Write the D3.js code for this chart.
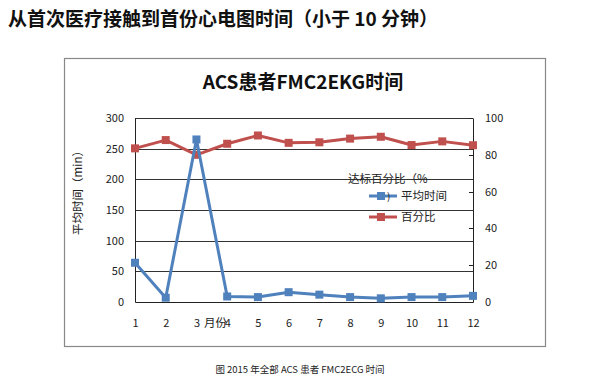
<!DOCTYPE html>
<html><head><meta charset="utf-8">
<script src="https://cdn.jsdelivr.net/npm/d3@7"></script>
<style>body{margin:0;background:#fff}svg{display:block}</style>
</head><body>
<svg id="c" width="592" height="386"></svg>
<script>
const months = ["1","2","3","4","5","6","7","8","9","10","11","12"];
const avgTime = [64, 7, 265, 9, 8, 16, 12, 8, 6, 8, 8, 10];
const percent = [83.5, 88, 80, 86, 90.5, 86.5, 86.8, 88.8, 89.8, 85.3, 87.3, 85.2];
const leftTicks = [0, 50, 100, 150, 200, 250, 300];
const rightTicks = [0, 20, 40, 60, 80, 100];

const svg = d3.select("#c");
const font = "'Noto Sans CJK SC', 'DejaVu Sans', sans-serif";
const L = 135, R = 473, T = 118, B = 302;
const x = d3.scalePoint().domain(months).range([L, R]);
const yL = d3.scaleLinear().domain([0, 300]).range([B, T]);
const yR = d3.scaleLinear().domain([0, 100]).range([B, T]);
const blue = "#4f81bd", red = "#c0504d";

// page title
svg.append("text").attr("x", 8).attr("y", 26).attr("font-family", font)
  .attr("font-size", 19).attr("font-weight", "bold").attr("fill", "#111")
  .text("从首次医疗接触到首份心电图时间（小于 10 分钟）");

// chart frame
svg.append("rect").attr("x", 64.5).attr("y", 58.5).attr("width", 481).attr("height", 288)
  .attr("fill", "none").attr("stroke", "#888").attr("stroke-width", 1.2);

svg.append("text").attr("x", 303).attr("y", 89).attr("text-anchor", "middle")
  .attr("font-family", font).attr("font-size", 19).attr("font-weight", "bold").attr("fill", "#111")
  .text("ACS患者FMC2EKG时间");

// gridlines
svg.append("g").selectAll("line").data(leftTicks.filter(d => d > 0)).join("line")
  .attr("x1", L).attr("x2", R).attr("y1", d => Math.round(yL(d)) + 0.5).attr("y2", d => Math.round(yL(d)) + 0.5)
  .attr("stroke", "#333").attr("stroke-width", 1);

// left axis
const gL = svg.append("g").attr("transform", `translate(${L},0)`)
  .call(d3.axisLeft(yL).tickValues(leftTicks).tickSize(0).tickPadding(11));
gL.select(".domain").attr("stroke", "#222");
gL.selectAll("text").attr("font-family", font).attr("font-size", 11).attr("fill", "#222");

// right axis
const gR = svg.append("g").attr("transform", `translate(${R},0)`)
  .call(d3.axisRight(yR).tickValues(rightTicks).tickSize(0).tickPadding(12));
gR.select(".domain").attr("stroke", "#222");
gR.selectAll("text").attr("font-family", font).attr("font-size", 11).attr("fill", "#222");
svg.append("g").selectAll("line").data(rightTicks).join("line")
  .attr("x1", R - 4).attr("x2", R).attr("y1", d => Math.round(yR(d)) + 0.5).attr("y2", d => Math.round(yR(d)) + 0.5)
  .attr("stroke", "#222");

// bottom axis
const gB = svg.append("g").attr("transform", `translate(0,${B})`)
  .call(d3.axisBottom(x).tickSize(0).tickPadding(17));
gB.select(".domain").attr("stroke", "#222");
gB.selectAll("text").attr("font-family", font).attr("font-size", 11).attr("fill", "#222");

// axis titles
svg.append("text").attr("transform", "translate(82,190) rotate(-90)").attr("text-anchor", "middle")
  .attr("font-family", font).attr("font-size", 11.5).attr("fill", "#222").text("平均时间（min）");
svg.append("text").attr("x", 204).attr("y", 327).attr("font-family", font)
  .attr("font-size", 11.5).attr("fill", "#222").text("月份");

// series
function series(vals, y, color) {
  const g = svg.append("g");
  g.append("path").datum(vals)
    .attr("d", d3.line().x((d, i) => x(months[i])).y(d => y(d)))
    .attr("fill", "none").attr("stroke", color).attr("stroke-width", 3).attr("stroke-linejoin", "round");
  g.selectAll("rect").data(vals).join("rect")
    .attr("x", (d, i) => x(months[i]) - 4).attr("y", d => y(d) - 4)
    .attr("width", 8).attr("height", 8).attr("fill", color);
}
series(percent, yR, red);
series(avgTime, yL, blue);

// legend
svg.append("text").attr("x", 348).attr("y", 183).attr("font-family", font)
  .attr("font-size", 11.5).attr("fill", "#222").text("达标百分比（%");
const leg = [{name: "平均时间", color: blue, y: 196}, {name: "百分比", color: red, y: 217}];
leg.forEach(l => {
  svg.append("line").attr("x1", 369).attr("x2", 397).attr("y1", l.y).attr("y2", l.y)
    .attr("stroke", l.color).attr("stroke-width", 3);
  svg.append("rect").attr("x", 377).attr("y", l.y - 4).attr("width", 8).attr("height", 8).attr("fill", l.color);
  svg.append("text").attr("x", 401).attr("y", l.y + 4).attr("font-family", font)
    .attr("font-size", 11.5).attr("fill", "#222").text(l.name);
});
svg.append("text").attr("x", 387).attr("y", 200).attr("font-family", font)
  .attr("font-size", 10).attr("fill", "#222").text(")");

// caption
svg.append("text").attr("x", 300).attr("y", 373).attr("text-anchor", "middle")
  .attr("font-family", font).attr("font-size", 9.5).attr("fill", "#222")
  .text("图 2015 年全部 ACS 患者 FMC2ECG 时间");
</script>
</body></html>
